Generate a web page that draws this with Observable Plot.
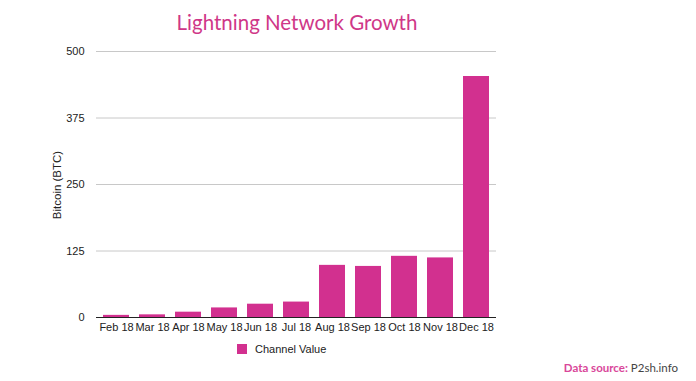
<!DOCTYPE html>
<html>
<head>
<meta charset="utf-8">
<script src="https://cdn.jsdelivr.net/npm/d3@7"></script>
<script src="https://cdn.jsdelivr.net/npm/@observablehq/plot@0.6"></script>
<style>
  html, body { margin: 0; padding: 0; background: #fff; }
  #wrap { position: relative; width: 696px; height: 381px; overflow: hidden; font-family: "Liberation Sans", Arial, sans-serif; }
  #wrap svg { position: absolute; left: 0; top: 0; }
  #title { position: absolute; left: 0; width: 594px; top: 10px; text-align: center; font-family: Lato, "Open Sans", sans-serif; font-size: 20.5px; color: #cf3788; }
  #ylab { position: absolute; left: 57px; top: 185px; transform: translate(-50%, -50%) rotate(-90deg); white-space: nowrap; font-size: 11.5px; color: #222; }
  #legend { position: absolute; left: 237px; top: 343px; font-size: 11px; color: #222; display: flex; align-items: center; }
  #legend .sw { width: 10px; height: 10px; background: #d2308f; margin-right: 8px; }
  #source { position: absolute; right: 18px; top: 361px; font-family: Lato, "Open Sans", sans-serif; font-size: 11.5px; }
  #source .k { color: #d9479a; font-weight: bold; }
  #source .v { color: #444; }
</style>
</head>
<body>
<div id="wrap">
  <div id="title">Lightning Network Growth</div>
  <div id="ylab">Bitcoin (BTC)</div>
  <div id="legend"><div class="sw"></div><span>Channel Value</span></div>
  <div id="source"><span class="k">Data source:</span> <span class="v">P2sh.info</span></div>
</div>
<script>
const months = ["Feb 18","Mar 18","Apr 18","May 18","Jun 18","Jul 18","Aug 18","Sep 18","Oct 18","Nov 18","Dec 18"];
const channelValue = [4, 5, 10, 18, 25, 29, 98, 96, 115, 112, 453];
const yTicks = [0, 125, 250, 375, 500];

const data = months.map((m, i) => ({month: m, value: channelValue[i]}));

const chart = Plot.plot({
  width: 696,
  height: 381,
  marginLeft: 96,
  marginRight: 200,
  marginTop: 51,
  marginBottom: 64,
  style: {fontFamily: "'Liberation Sans', Arial, sans-serif", fontSize: "11px", color: "#222", background: "transparent"},
  x: {domain: months, paddingInner: 0.28, paddingOuter: 0.14, label: null, tickSize: 0, tickPadding: 6},
  y: {domain: [0, 500], ticks: yTicks, label: null, tickSize: 0, tickPadding: 12},
  marks: [
    Plot.ruleY(yTicks.filter(d => d > 0), {stroke: "#c8c8c8", strokeWidth: 1}),
    Plot.barY(data, {x: "month", y: "value", fill: "#d2308f"}),
    Plot.ruleY([0], {stroke: "#222", strokeWidth: 1})
  ]
});
document.getElementById("wrap").prepend(chart);
</script>
</body>
</html>
